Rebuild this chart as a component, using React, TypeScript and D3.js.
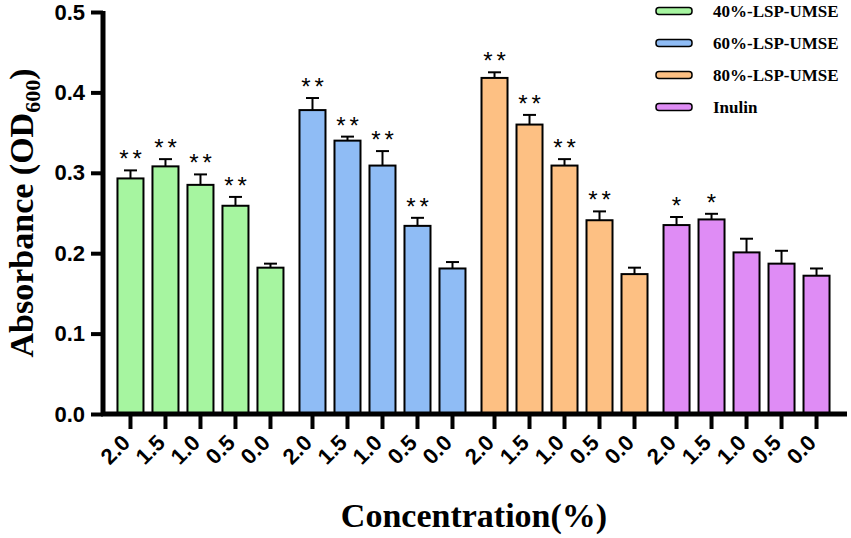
import React, { useEffect, useRef } from 'react';
import * as d3 from 'd3';

const groups = ['40%-LSP-UMSE', '60%-LSP-UMSE', '80%-LSP-UMSE', 'Inulin'];
const concentrations = ['2.0', '1.5', '1.0', '0.5', '0.0'];

const means40 = [0.293, 0.308, 0.285, 0.259, 0.182];
const sd40 = [0.01, 0.009, 0.013, 0.011, 0.005];
const sig40 = ['**', '**', '**', '**', ''];

const means60 = [0.378, 0.34, 0.309, 0.234, 0.181];
const sd60 = [0.015, 0.005, 0.018, 0.01, 0.008];
const sig60 = ['**', '**', '**', '**', ''];

const means80 = [0.418, 0.36, 0.309, 0.241, 0.174];
const sd80 = [0.007, 0.012, 0.008, 0.011, 0.008];
const sig80 = ['**', '**', '**', '**', ''];

const meansInulin = [0.235, 0.242, 0.201, 0.187, 0.172];
const sdInulin = [0.01, 0.007, 0.017, 0.016, 0.009];
const sigInulin = ['*', '*', '', '', ''];

const colors = ['#a6f5a0', '#8fbcf5', '#fdc083', '#df8cf5'];
const yTicks = [0, 0.1, 0.2, 0.3, 0.4, 0.5];

const SANS = 'Liberation Sans, Arial, sans-serif';
const SERIF = 'Liberation Serif, Times New Roman, serif';

const App: React.FC = () => {
  const svgRef = useRef<SVGSVGElement | null>(null);

  useEffect(() => {
    document.body.style.margin = '0';
    const svg = d3.select(svgRef.current);
    svg.selectAll('*').remove();

    const means = [means40, means60, means80, meansInulin];
    const sds = [sd40, sd60, sd80, sdInulin];
    const sigs = [sig40, sig60, sig80, sigInulin];

    const x0 = d3.scaleBand<string>().domain(groups).range([100, 847]).paddingInner(0.088).paddingOuter(0.096);
    const x1 = d3.scaleBand<string>().domain(concentrations).range([0, x0.bandwidth()]).paddingInner(0.257).paddingOuter(0);
    const y = d3.scaleLinear().domain([0, 0.5]).range([414, 12]);

    const rows = groups.flatMap((g, gi) =>
      concentrations.map((c, ci) => ({ g, gi, c, m: means[gi][ci], sd: sds[gi][ci], sig: sigs[gi][ci] }))
    );
    const cx = (d: { g: string; c: string }) => (x0(d.g) as number) + (x1(d.c) as number) + x1.bandwidth() / 2;

    // bars
    svg.append('g')
      .selectAll('rect')
      .data(rows)
      .join('rect')
      .attr('x', d => (x0(d.g) as number) + (x1(d.c) as number))
      .attr('y', d => y(d.m))
      .attr('width', x1.bandwidth())
      .attr('height', d => y(0) - y(d.m))
      .attr('fill', d => colors[d.gi])
      .attr('stroke', '#000')
      .attr('stroke-width', 2);

    // error bars
    const eb = svg.append('g').attr('stroke', '#000').attr('stroke-width', 2);
    eb.selectAll('line.v')
      .data(rows)
      .join('line')
      .attr('class', 'v')
      .attr('x1', cx)
      .attr('x2', cx)
      .attr('y1', d => y(d.m))
      .attr('y2', d => y(d.m + d.sd));
    eb.selectAll('line.h')
      .data(rows)
      .join('line')
      .attr('class', 'h')
      .attr('x1', d => cx(d) - 6.5)
      .attr('x2', d => cx(d) + 6.5)
      .attr('y1', d => y(d.m + d.sd))
      .attr('y2', d => y(d.m + d.sd));

    // significance stars
    svg.append('g')
      .selectAll('text')
      .data(rows.filter(d => d.sig))
      .join('text')
      .attr('x', d => cx(d) + (d.sig.length > 1 ? 2 : 0))
      .attr('y', d => y(d.m + d.sd) - 3)
      .attr('text-anchor', 'middle')
      .attr('font-family', SANS)
      .attr('font-size', 24)
      .attr('letter-spacing', d => (d.sig.length > 1 ? 4 : 0))
      .text(d => d.sig);

    // y axis
    const yAxis = svg.append('g')
      .attr('transform', 'translate(103,0)')
      .call(d3.axisLeft(y).tickValues(yTicks).tickSize(12).tickSizeOuter(0).tickFormat(d3.format('.1f')));
    yAxis.select('.domain').attr('stroke-width', 5).attr('d', `M0,${y(0.5) - 1}V${y(0)}`);
    yAxis.selectAll('.tick line').attr('stroke-width', 4);
    yAxis.selectAll('.tick text')
      .attr('x', -18)
      .attr('font-family', SANS)
      .attr('font-weight', 'bold')
      .attr('font-size', 22);

    // x axis line
    svg.append('line')
      .attr('x1', 101)
      .attr('x2', 847)
      .attr('y1', y(0))
      .attr('y2', y(0))
      .attr('stroke', '#000')
      .attr('stroke-width', 5);

    // x ticks per group
    groups.forEach(g => {
      const ax = svg.append('g')
        .attr('transform', `translate(${x0(g)},${y(0)})`)
        .call(d3.axisBottom(x1).tickSize(15).tickSizeOuter(0));
      ax.select('.domain').remove();
      ax.selectAll('.tick line').attr('stroke-width', 4);
      ax.selectAll('.tick text')
        .attr('y', 0)
        .attr('dy', 0)
        .attr('text-anchor', 'end')
        .attr('transform', 'translate(1,30) rotate(-45)')
        .attr('font-family', SANS)
        .attr('font-weight', 'bold')
        .attr('font-size', 22);
    });

    // axis titles
    svg.append('text')
      .attr('x', 474)
      .attr('y', 527)
      .attr('text-anchor', 'middle')
      .attr('font-family', SERIF)
      .attr('font-weight', 'bold')
      .attr('font-size', 34)
      .text('Concentration(%)');

    const yt = svg.append('text')
      .attr('transform', 'translate(33,213) rotate(-90)')
      .attr('text-anchor', 'middle')
      .attr('font-family', SERIF)
      .attr('font-weight', 'bold')
      .attr('font-size', 34);
    yt.append('tspan').text('Absorbance (OD');
    yt.append('tspan').attr('font-size', 22).attr('dy', 7).text('600');
    yt.append('tspan').attr('dy', -7).text(')');

    // legend
    const legend = svg.append('g')
      .selectAll('g')
      .data(groups)
      .join('g')
      .attr('transform', (_, i) => `translate(656,${11 + i * 32})`);
    legend.append('rect')
      .attr('x', 0)
      .attr('y', -3.5)
      .attr('width', 36)
      .attr('height', 7)
      .attr('rx', 3)
      .attr('fill', (_, i) => colors[i])
      .attr('stroke', '#000')
      .attr('stroke-width', 1.5);
    legend.append('text')
      .attr('x', 57)
      .attr('y', 6)
      .attr('font-family', SERIF)
      .attr('font-weight', 'bold')
      .attr('font-size', 17)
      .text(d => d);
  }, []);

  return <svg ref={svgRef} width={851} height={538} style={{ display: 'block', background: '#fff' }}></svg>;
};

export default App;
